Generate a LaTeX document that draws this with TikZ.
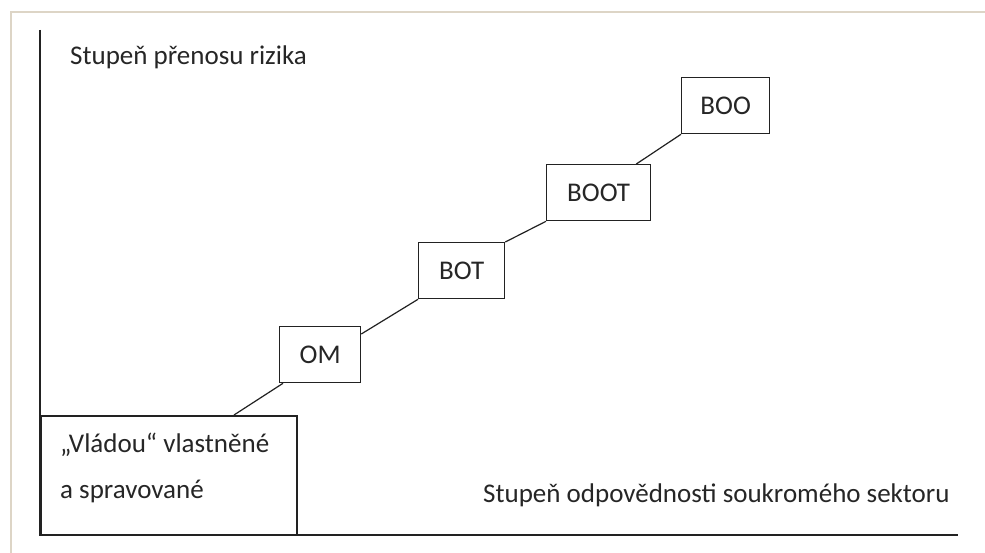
\documentclass[tikz,border=0pt]{standalone}
\usepackage{fontspec}
\setmainfont{Carlito}
\definecolor{ink}{HTML}{222222}
\definecolor{txt}{HTML}{262626}
\definecolor{frame}{HTML}{DDD5C6}
\begin{document}
\begin{tikzpicture}[x=1pt,y=-1pt,
  font=\fontsize{27}{32}\selectfont,
  stage/.style={draw=ink,line width=1.3pt,fill=white,text=txt,inner sep=0pt,
    minimum height=56pt},
  link/.style={draw=ink,line width=1.2pt},
  axis/.style={draw=ink,line width=1.6pt},
  lbl/.style={text=txt,inner sep=0pt,anchor=base west}]
\useasboundingbox (0,0) rectangle (985,553);
\fill[white] (0,0) rectangle (985,553);
% faint frame
\coordinate (ftl) at (11,12);
\coordinate (ftr) at (985,12);
\coordinate (fbl) at (11,553);
\draw[frame,line width=1.6pt] (fbl) -- (ftl) -- (ftr);
% axes
\coordinate (origin) at (40,535);
\coordinate (ytop) at (40,30);
\coordinate (xend) at (958,535);
\draw[axis] (ytop) -- (origin) -- (xend);
\node[lbl] (ylab) at (70,65) {Stupeň přenosu rizika};
\node[lbl] (xlab) at (483,502) {Stupeň odpovědnosti soukromého sektoru};
% boxes
\node[draw=ink,line width=2pt,fill=white,minimum width=256pt,minimum height=119pt,
  anchor=north west,inner sep=0pt] (vlad) at (40,415) {};
\node[lbl] (vl1) at (60,452) {„Vládou“ vlastněné};
\node[lbl] (vl2) at (60,498) {a spravované};
\node[stage,minimum width=81pt,minimum height=56pt,anchor=north west] (om) at (279,326) {OM};
\node[stage,minimum width=86pt,minimum height=56pt,anchor=north west] (bot) at (418,242) {BOT};
\node[stage,minimum width=104pt,minimum height=56pt,anchor=north west] (boot) at (546,164) {BOOT};
\node[stage,minimum width=88pt,minimum height=56pt,anchor=north west] (boo) at (681,77) {BOO};
% connectors
\draw[link] ([xshift=-64pt]vlad.north east) -- ([xshift=4pt]om.south west);
\draw[link] ([yshift=-8pt]om.north east) -- (bot.south west);
\draw[link] (bot.north east) -- (boot.south west);
\draw[link] ([xshift=-15pt]boot.north east) -- (boo.south west);
\end{tikzpicture}
\end{document}
